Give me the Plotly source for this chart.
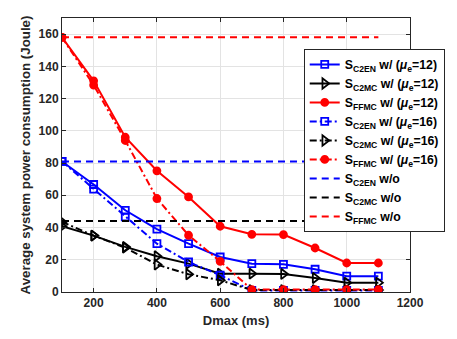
import plotly.graph_objects as go

dmax = [100, 200, 300, 400, 500, 600, 700, 800, 900, 1000, 1100]

c2en_12 = [81, 66.7, 50.7, 39, 30, 21.7, 17.6, 17.2, 14.1, 9.8, 9.8]
c2mc_12 = [40.8, 35, 28, 22.2, 17.6, 11.4, 11.4, 11.2, 8.7, 5.8, 5.8]
ffmc_12 = [158, 131, 96, 75.2, 59, 40.8, 35.8, 35.6, 27.3, 18, 18]

c2en_16 = [81, 63.8, 46.6, 30, 18.6, 10.4, 1, 1, 1, 1, 1]
c2mc_16 = [43.5, 35, 27.5, 17, 11, 7.3, 1.2, 1.2, 1.2, 1.2, 1.2]
ffmc_16 = [158, 128.4, 94, 58, 35.2, 19, 1.5, 1.5, 1.5, 1.5, 1.5]

c2en_wo = [81] * len(dmax)
c2mc_wo = [44] * len(dmax)
ffmc_wo = [158] * len(dmax)

xticks = [200, 400, 600, 800, 1000, 1200]
yticks = [0, 20, 40, 60, 80, 100, 120, 140, 160]

BLUE = "#0000ff"
BLACK = "#000000"
RED = "#ff0000"
DASHDOT = "7px,3px,2px,3px"

def name(sub, rest):
    return f"S<sub>{sub}</sub> {rest}"

fig = go.Figure()
series = [
    (c2en_12, BLUE, "solid", "square-open", 7, name("C2EN", "w/ (<i>μ</i><sub>e</sub>=12)")),
    (c2mc_12, BLACK, "solid", "triangle-right-open", 9, name("C2MC", "w/ (<i>μ</i><sub>e</sub>=12)")),
    (ffmc_12, RED, "solid", "circle", 7, name("FFMC", "w/ (<i>μ</i><sub>e</sub>=12)")),
    (c2en_16, BLUE, DASHDOT, "square-open", 7, name("C2EN", "w/ (<i>μ</i><sub>e</sub>=16)")),
    (c2mc_16, BLACK, DASHDOT, "triangle-right-open", 9, name("C2MC", "w/ (<i>μ</i><sub>e</sub>=16)")),
    (ffmc_16, RED, DASHDOT, "circle", 7, name("FFMC", "w/ (<i>μ</i><sub>e</sub>=16)")),
]
for y, col, dash, sym, sz, nm in series:
    fig.add_trace(go.Scatter(
        x=dmax, y=y, mode="lines+markers", name=nm,
        line=dict(color=col, width=2, dash=dash),
        marker=dict(symbol=sym, size=sz, color=col, line=dict(color=col, width=1.8)),
    ))
for y, col, nm in [(c2en_wo, BLUE, name("C2EN", "w/o")),
                   (c2mc_wo, BLACK, name("C2MC", "w/o")),
                   (ffmc_wo, RED, name("FFMC", "w/o"))]:
    fig.add_trace(go.Scatter(
        x=dmax, y=y, mode="lines", name=nm,
        line=dict(color=col, width=2, dash="7px,5px"),
    ))

axis_common = dict(
    showline=True, linecolor="#262626", linewidth=1, mirror="ticks",
    ticks="inside", ticklen=4, tickcolor="#262626",
    showgrid=True, gridcolor="#e3e3e3", gridwidth=1, zeroline=False,
    tickfont=dict(family="Liberation Sans", size=12, color="#262626", weight="bold"),
)

fig.update_layout(
    width=457, height=339,
    margin=dict(l=62, r=44, t=18, b=47),
    paper_bgcolor="white", plot_bgcolor="white",
    font=dict(family="Liberation Sans", size=12, color="#262626", weight="bold"),
    xaxis=dict(range=[100, 1200], tickvals=xticks,
               title=dict(text="Dmax (ms)", standoff=6,
                          font=dict(size=13, weight="bold", color="#262626")),
               **axis_common),
    yaxis=dict(range=[0, 170], tickvals=yticks,
               title=dict(text="Average system power consumption (Joule)", standoff=4,
                          font=dict(size=13.3, weight="bold", color="#262626")),
               **axis_common),
    legend=dict(x=1.0998, y=0.887, xanchor="right", yanchor="top",
                bgcolor="white", bordercolor="#262626", borderwidth=1,
                font=dict(family="Liberation Sans", size=12.3, color="#000000", weight="bold"),
                itemwidth=30, tracegroupgap=0),
    showlegend=True,
)

fig.write_html("out.html")
